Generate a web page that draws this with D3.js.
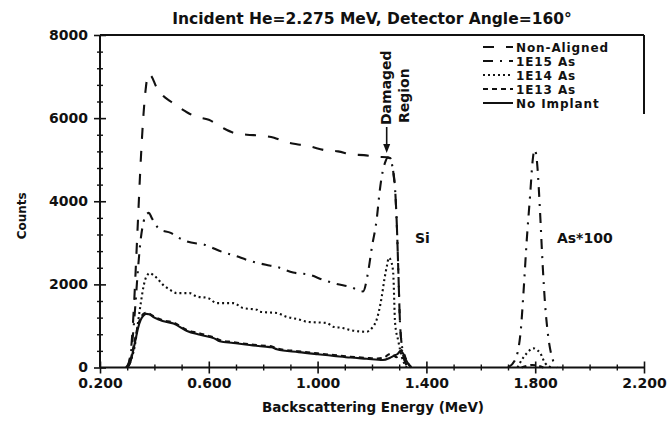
<!DOCTYPE html>
<html><head><meta charset="utf-8">
<script src="https://cdn.jsdelivr.net/npm/d3@7"></script>
<style>
body{margin:0;background:#fff}
text{font-family:"DejaVu Sans",sans-serif;font-weight:bold;fill:#111}
</style>
</head><body>
<svg id="c" width="669" height="427"></svg>
<script>
// ---- data (energy MeV, counts) ----
const nonAligned = [[0.295,0],[0.305,100],[0.315,500],[0.325,1500],[0.333,2600],[0.34,3600],[0.35,5000],[0.36,6100],[0.368,6700],[0.378,7060],[0.39,7000],[0.405,6780],[0.43,6550],[0.46,6400],[0.50,6220],[0.55,6040],[0.60,5960],[0.65,5770],[0.69,5650],[0.74,5600],[0.79,5580],[0.84,5530],[0.88,5430],[0.935,5360],[0.97,5320],[1.03,5225],[1.075,5200],[1.13,5120],[1.17,5110],[1.22,5070],[1.255,5060],[1.266,5040],[1.274,4900],[1.28,4600],[1.285,4280],[1.291,3480],[1.297,2280],[1.303,1070],[1.314,350],[1.325,80],[1.335,0]];
const as1E15 = [[0.30,0],[0.31,200],[0.32,700],[0.33,1500],[0.34,2400],[0.35,3100],[0.36,3500],[0.37,3680],[0.38,3720],[0.39,3600],[0.42,3320],[0.46,3240],[0.49,3120],[0.52,3030],[0.586,2950],[0.65,2780],[0.70,2680],[0.74,2590],[0.81,2470],[0.85,2420],[0.91,2285],[0.97,2230],[1.02,2110],[1.07,2010],[1.12,1940],[1.167,1830],[1.185,2270],[1.20,2910],[1.217,3550],[1.229,4280],[1.236,4600],[1.248,4930],[1.258,5050],[1.268,5000],[1.276,4800],[1.285,4280],[1.291,3480],[1.297,2280],[1.303,1070],[1.314,350],[1.325,80],[1.335,0],
  null,[1.70,0],[1.726,180],[1.747,900],[1.756,1710],[1.769,3070],[1.781,4120],[1.791,5000],[1.797,5240],[1.803,5150],[1.808,4840],[1.818,3720],[1.827,2520],[1.836,1550],[1.848,740],[1.865,180],[1.88,0]];
const as1E14 = [[0.30,0],[0.315,200],[0.33,600],[0.34,1100],[0.35,1550],[0.36,1950],[0.37,2180],[0.384,2270],[0.40,2200],[0.408,2160],[0.43,2000],[0.457,1870],[0.482,1790],[0.53,1790],[0.555,1710],[0.597,1670],[0.63,1550],[0.69,1550],[0.726,1430],[0.777,1390],[0.788,1340],[0.85,1310],[0.887,1220],[0.935,1150],[0.96,1100],[1.035,1070],[1.057,980],[1.093,950],[1.12,900],[1.18,860],[1.20,950],[1.217,1150],[1.236,1710],[1.245,2100],[1.255,2450],[1.262,2640],[1.272,2520],[1.278,2270],[1.285,1065],[1.296,660],[1.31,250],[1.327,0],
  null,[1.735,0],[1.744,110],[1.77,350],[1.785,440],[1.795,460],[1.805,430],[1.818,350],[1.836,110],[1.86,0]];
const as1E13 = [[0.30,0],[0.31,120],[0.32,400],[0.33,720],[0.34,1020],[0.35,1200],[0.36,1290],[0.37,1320],[0.38,1300],[0.40,1220],[0.43,1140],[0.47,1080],[0.52,900],[0.56,830],[0.60,760],[0.62,720],[0.64,660],[0.69,610],[0.75,560],[0.81,520],[0.83,510],[0.85,460],[0.93,390],[1.00,340],[1.06,300],[1.12,260],[1.18,230],[1.22,215],[1.245,240],[1.26,310],[1.27,330],[1.28,290],[1.29,250],[1.30,330],[1.308,420],[1.316,350],[1.326,190],[1.336,70],[1.346,0],
  null,[1.75,0],[1.79,60],[1.83,0]];
const noImplant = [[0.30,0],[0.31,100],[0.32,350],[0.33,650],[0.34,950],[0.35,1150],[0.36,1250],[0.37,1290],[0.38,1280],[0.40,1200],[0.43,1120],[0.47,1060],[0.52,880],[0.56,800],[0.60,740],[0.62,700],[0.64,630],[0.69,590],[0.75,540],[0.81,500],[0.83,490],[0.85,440],[0.93,370],[1.00,320],[1.06,280],[1.12,240],[1.18,210],[1.24,180],[1.265,230],[1.28,280],[1.295,330],[1.305,400],[1.315,330],[1.325,180],[1.335,70],[1.345,0]];

const seriesNames = ["Non-Aligned","1E15 As","1E14 As","1E13 As","No Implant"];
const seriesData = [nonAligned, as1E15, as1E14, as1E13, noImplant];
const seriesDash = ["11,12","10,7,2,7","2,3","5,4",null];

const xMajorTicks = [0.2,0.6,1.0,1.4,1.8,2.2];
const yMajorTicks = [0,2000,4000,6000,8000];

const titleText = "Incident He=2.275 MeV, Detector Angle=160°";
const xTitle = "Backscattering Energy (MeV)";
const yTitle = "Counts";

// ---- drawing ----
const svg = d3.select('#c');
const x = d3.scaleLinear().domain([0.2,2.2]).range([100,644]);
const y = d3.scaleLinear().domain([0,8000]).range([367.5,35]);

const xMinor = d3.range(0.3,2.2,0.1).filter(v=>!xMajorTicks.some(m=>Math.abs(m-v)<1e-6));
const yMinor = d3.range(400,8000,400).filter(v=>v%2000!==0);

// frame top + partial right
svg.append('line').attr('x1',x(0.2)).attr('x2',x(2.2)).attr('y1',y(8000)).attr('y2',y(8000)).attr('stroke','#111').attr('stroke-width',2);
svg.append('line').attr('x1',x(2.2)).attr('x2',x(2.2)).attr('y1',y(8000)).attr('y2',114).attr('stroke','#111').attr('stroke-width',2);

// x axis
const gx = svg.append('g').attr('transform',`translate(0,${y(0)})`)
  .call(d3.axisBottom(x).tickValues(xMajorTicks).tickFormat(d3.format('.3f')).tickSize(6).tickPadding(5));
gx.select('.domain').attr('stroke','#111').attr('stroke-width',2).attr('d',`M${x(0.2)},0H${x(2.2)}`);
gx.selectAll('.tick line').attr('y1',-6).attr('y2',6).attr('stroke','#111').attr('stroke-width',1.6);
gx.selectAll('.tick text').attr('font-size',14).attr('fill','#111');
gx.attr('font-family',null);
const gxm = svg.append('g').attr('transform',`translate(0,${y(0)})`)
  .call(d3.axisBottom(x).tickValues(xMinor).tickFormat('').tickSize(3));
gxm.select('.domain').remove();
gxm.selectAll('.tick line').attr('y1',-3).attr('y2',3).attr('stroke','#111').attr('stroke-width',1.4);

// y axis
const gy = svg.append('g').attr('transform',`translate(${x(0.2)},0)`)
  .call(d3.axisLeft(y).tickValues(yMajorTicks).tickFormat(d3.format('d')).tickSize(6).tickPadding(6));
gy.select('.domain').attr('stroke','#111').attr('stroke-width',2).attr('d',`M0,${y(0)}V${y(8000)}`);
gy.selectAll('.tick line').attr('x1',-6).attr('x2',6).attr('stroke','#111').attr('stroke-width',1.6);
gy.selectAll('.tick text').attr('font-size',14).attr('fill','#111');
gy.attr('font-family',null);
const gym = svg.append('g').attr('transform',`translate(${x(0.2)},0)`)
  .call(d3.axisLeft(y).tickValues(yMinor).tickFormat('').tickSize(3));
gym.select('.domain').remove();
gym.selectAll('.tick line').attr('x1',-3).attr('x2',3).attr('stroke','#111').attr('stroke-width',1.4);

// curves
const line = d3.line().defined(d=>d!==null).x(d=>x(d[0])).y(d=>y(d[1])).curve(d3.curveMonotoneX);
seriesData.forEach((data,i)=>{
  svg.append('path').datum(data).attr('d',line).attr('fill','none')
    .attr('stroke','#111').attr('stroke-width',2.1)
    .attr('stroke-dasharray',seriesDash[i]).attr('stroke-linecap','butt');
});

// legend
const lg = svg.append('g');
seriesNames.forEach((n,i)=>{
  const by = 52 + i*14;
  lg.append('line').attr('x1',483).attr('x2',513).attr('y1',by-5).attr('y2',by-5)
    .attr('stroke','#111').attr('stroke-width',2).attr('stroke-dasharray',seriesDash[i]);
  lg.append('text').attr('x',516).attr('y',by).attr('font-size',12).attr('letter-spacing',0.9).text(n);
});

// titles
svg.append('text').attr('x',372).attr('y',24).attr('text-anchor','middle').attr('font-size',15.5).text(titleText);
svg.append('text').attr('x',373).attr('y',412).attr('text-anchor','middle').attr('font-size',13.5).text(xTitle);
svg.append('text').attr('transform',`translate(26,${y(3650)}) rotate(-90)`).attr('text-anchor','middle').attr('font-size',12).text(yTitle);

// annotations
svg.append('text').attr('x',x(1.358)).attr('y',y(3000)).attr('font-size',14).text('Si');
svg.append('text').attr('x',x(1.880)).attr('y',y(3000)).attr('font-size',14).text('As*100');
svg.append('text').attr('transform',`translate(391,125) rotate(-90)`).attr('font-size',14).text('Damaged');
svg.append('text').attr('transform',`translate(409,123) rotate(-90)`).attr('font-size',14).text('Region');
const ax = x(1.254);
svg.append('line').attr('x1',ax).attr('x2',ax).attr('y1',127).attr('y2',146).attr('stroke','#111').attr('stroke-width',1.6);
svg.append('path').attr('d',`M${ax-3.5},${144}L${ax+3.5},${144}L${ax},${153}Z`).attr('fill','#111');
</script>
</body></html>
